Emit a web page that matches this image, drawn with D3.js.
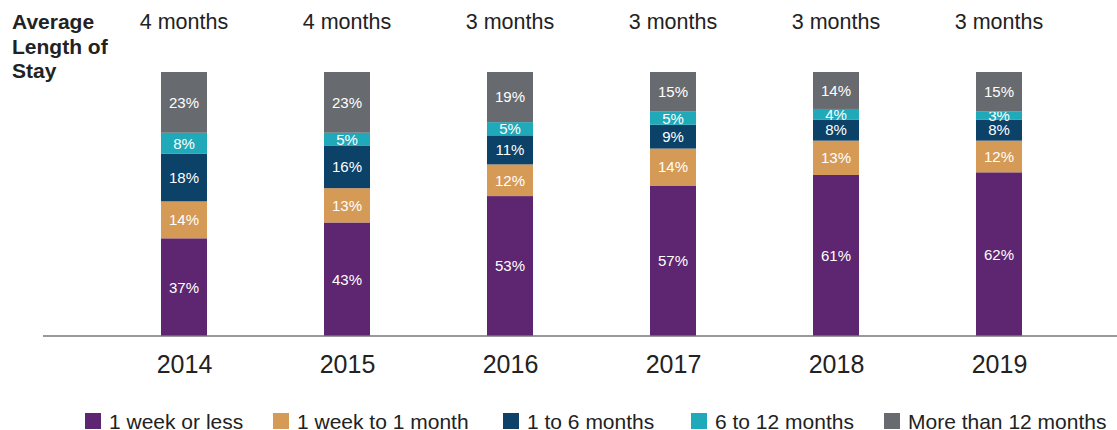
<!DOCTYPE html>
<html>
<head>
<meta charset="utf-8">
<script src="https://cdn.jsdelivr.net/npm/d3@7"></script>
<style>
  body { margin: 0; background: #fff; }
  svg { display: block; font-family: "Liberation Sans", Arial, sans-serif; }
</style>
</head>
<body>
<svg></svg>
<script>
// chart data
const years = ["2014", "2015", "2016", "2017", "2018", "2019"];
const avgStay = ["4 months", "4 months", "3 months", "3 months", "3 months", "3 months"];
const categories = ["1 week or less", "1 week to 1 month", "1 to 6 months", "6 to 12 months", "More than 12 months"];
const weekOrLess = [37, 43, 53, 57, 61, 62];
const weekToMonth = [14, 13, 12, 14, 13, 12];
const oneToSix = [18, 16, 11, 9, 8, 8];
const sixToTwelve = [8, 5, 5, 5, 4, 3];
const moreThanTwelve = [23, 23, 19, 15, 14, 15];
const colors = ["#5e2570", "#d69a57", "#0c4168", "#1fa9b9", "#676b6f"];

const width = 1117, height = 430;
const svg = d3.select("svg").attr("width", width).attr("height", height);

// build rows for stacking
const series = [weekOrLess, weekToMonth, oneToSix, sixToTwelve, moreThanTwelve];
const rows = years.map((y, i) => {
    const r = { year: y };
    categories.forEach((c, k) => r[c] = series[k][i]);
    return r;
});
const stacked = d3.stack().keys(categories)(rows);

const x = d3.scalePoint().domain(years).range([184, 999]);
const y = d3.scaleLinear().domain([0, 100]).range([336, 72]);
const barW = 46;

// bars
const layer = svg.selectAll("g.layer")
    .data(stacked)
    .enter().append("g")
    .attr("class", "layer")
    .attr("fill", (d, i) => colors[i]);

layer.selectAll("rect")
    .data(d => d)
    .enter().append("rect")
    .attr("x", d => x(d.data.year) - barW / 2)
    .attr("y", d => y(d[1]))
    .attr("width", barW)
    .attr("height", d => y(d[0]) - y(d[1]));

// value labels inside segments
layer.selectAll("text")
    .data(d => d)
    .enter().append("text")
    .attr("x", d => x(d.data.year))
    .attr("y", d => (y(d[0]) + y(d[1])) / 2)
    .attr("dy", "0.36em")
    .attr("text-anchor", "middle")
    .attr("fill", "#fff")
    .attr("font-size", "15px")
    .text(d => (d[1] - d[0]) + "%");

// baseline axis
const axis = svg.append("g")
    .attr("transform", "translate(0,336)")
    .call(d3.axisBottom(x).tickSize(0).tickPadding(0));
axis.select(".domain").remove();
axis.append("line")
    .attr("x1", 43).attr("x2", width)
    .attr("stroke", "#777").attr("stroke-width", 1.5);
axis.selectAll(".tick text")
    .attr("y", 37)
    .attr("dy", 0)
    .attr("font-size", "25px")
    .attr("font-family", "Liberation Sans, Arial, sans-serif")
    .attr("fill", "#222");

// average length of stay
const title = svg.append("text")
    .attr("x", 12).attr("y", 29)
    .attr("font-weight", "bold")
    .attr("font-size", "21px")
    .attr("fill", "#222");
["Average", "Length of", "Stay"].forEach((t, i) => {
    title.append("tspan").attr("x", 12).attr("dy", i === 0 ? 0 : 24.5).text(t);
});

svg.selectAll("text.stay")
    .data(avgStay)
    .enter().append("text")
    .attr("class", "stay")
    .attr("x", (d, i) => x(years[i]))
    .attr("y", 29)
    .attr("text-anchor", "middle")
    .attr("font-size", "21.5px")
    .attr("fill", "#222")
    .text(d => d);

// legend
const legendX = [85, 273, 503, 691, 884];
const legend = svg.selectAll("g.legend")
    .data(categories)
    .enter().append("g")
    .attr("class", "legend")
    .attr("transform", (d, i) => `translate(${legendX[i]},413)`);
legend.append("rect")
    .attr("width", 16).attr("height", 16)
    .attr("fill", (d, i) => colors[i]);
legend.append("text")
    .attr("x", 24).attr("y", 16)
    .attr("font-size", "21px")
    .attr("fill", "#222")
    .text(d => d);
</script>
</body>
</html>
